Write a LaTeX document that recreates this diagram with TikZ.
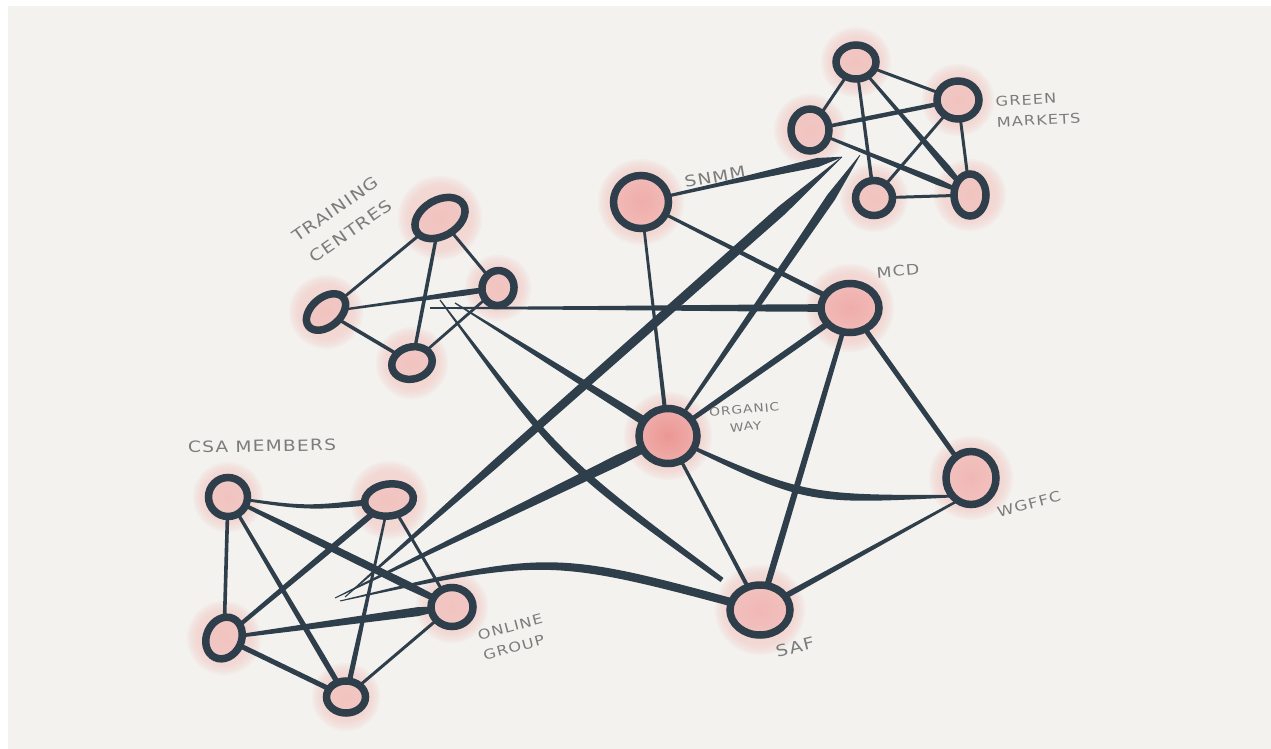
\documentclass[tikz,border=0pt]{standalone}
\usepackage{fontspec}
\newfontfamily\hand[FakeStretch=1.2,LetterSpace=8]{DejaVu Sans}
\usetikzlibrary{calc,shapes.geometric}

\definecolor{bgc}{HTML}{F3F2EE}
\definecolor{ink}{HTML}{2E3E4B}
\definecolor{glowc}{HTML}{F2CFCB}
\definecolor{pinkl}{HTML}{F1C3BF}
\definecolor{pinkw}{HTML}{F1B8B5}
\definecolor{pinkm}{HTML}{F0ADAA}
\definecolor{pinkh}{HTML}{EC9794}
\definecolor{labelc}{HTML}{7C7C7C}

\pgfdeclarelayer{paper}
\pgfdeclarelayer{halo}
\pgfdeclarelayer{links}
\pgfsetlayers{paper,halo,links,main}

% straight stroke of varying width:
% from, to, half-width at start, position 1, half-width there, position 2, half-width there, half-width at end
\newcommand\seg[8]{%
  \coordinate (sgA) at ($(#1)!#4!(#2)$);
  \coordinate (sgB) at ($(#1)!#6!(#2)$);
  \fill[ink] ($(#1)!#3!90:(#2)$) -- ($(sgA)!#5!90:(#2)$) -- ($(sgB)!#7!90:(#2)$) -- ($(#2)!#8!-90:(#1)$)
     -- ($(#2)!#8!90:(#1)$) -- ($(sgB)!#7!-90:(#2)$) -- ($(sgA)!#5!-90:(#2)$) -- ($(#1)!#3!-90:(#2)$) -- cycle;}
% curved stroke of varying width: from, control point, to, half-widths at start, middle, end
\newcommand\cseg[6]{%
  \fill[ink] ($(#1)!#4!90:(#2)$) .. controls ($(#2)!#5!90:(#3)$) .. ($(#3)!#6!-90:(#2)$)
     -- ($(#3)!#6!90:(#2)$) .. controls ($(#2)!#5!-90:(#3)$) .. ($(#1)!#4!-90:(#2)$) -- cycle;}
% soft pink glow round a node
\newcommand\glow[2]{%
  \foreach \k in {0,...,5}{\fill[glowc, opacity=0.2] #1 circle[radius={(#2+11-2.2*\k)*1pt}];}}

\begin{document}
\begin{tikzpicture}[x=1pt,y=-1pt,
  dot/.style={ellipse, draw=ink, line width=7.5pt, inner sep=0pt, outer sep=0pt,
              shade, inner color=#1, outer color=#1!60!glowc},
  dot/.default=pinkl,
  lbl/.style={text=labelc, inner sep=0pt, align=center}]

\useasboundingbox (0,0) rectangle (1271,749);
\begin{pgfonlayer}{paper}
  \fill[white] (0,0) rectangle (1271,749);
  \fill[bgc] (8,6) rectangle (1271,749);
\end{pgfonlayer}

% ---- nodes ----
% training centres
\node[dot, minimum width=54pt, minimum height=36pt, rotate=30] (t1) at (440,218) {};
\node[dot, minimum width=35pt, minimum height=32pt, rotate=80] (t2) at (498,288) {};
\node[dot, minimum width=45pt, minimum height=29pt, rotate=40] (t3) at (326,312) {};
\node[dot, minimum width=41pt, minimum height=32pt, rotate=15] (t4) at (412,363) {};
% green markets
\node[dot, minimum width=40pt, minimum height=34pt] (g1) at (856,62) {};
\node[dot, minimum width=42pt, minimum height=38pt] (g2) at (958,100) {};
\node[dot, minimum width=38pt, minimum height=42pt] (g3) at (810,130) {};
\node[dot, minimum width=37pt, minimum height=35pt] (g4) at (874,198) {};
\node[dot, minimum width=32pt, minimum height=42pt] (g5) at (970,195) {};
% main organisations
\node[dot=pinkm, minimum width=55pt, minimum height=53pt] (snmm) at (641,202) {};
\node[dot=pinkm, minimum width=58pt, minimum height=49pt] (mcd) at (850,308) {};
\node[dot=pinkh, minimum width=58pt, minimum height=55pt] (ow) at (668,436) {};
\node[dot=pinkw, minimum width=50pt, minimum height=53pt] (wgffc) at (971,478) {};
\node[dot=pinkw, minimum width=60pt, minimum height=50pt] (saf) at (760,610) {};
% CSA members
\node[dot, minimum width=39pt, minimum height=39pt] (c1) at (228,497) {};
\node[dot, minimum width=49pt, minimum height=32pt, rotate=8] (c2) at (389,500) {};
\node[dot, minimum width=43pt, minimum height=35pt, rotate=65] (c3) at (224,638) {};
\node[dot, minimum width=42pt, minimum height=39pt] (c4) at (452,607) {};
\node[dot, minimum width=39pt, minimum height=32pt] (c5) at (346,697) {};

% free ends of the long strokes
\coordinate (thubm) at (430,308);
\coordinate (thubo) at (455,303);
\coordinate (thubs) at (440,300);
\coordinate (chubg) at (345,597);
\coordinate (chubo) at (335,598);
\coordinate (chubs) at (340,601);
\coordinate (gend1) at (842,157);
\coordinate (gend2) at (860,155);
\coordinate (sfend) at (722,580);

% ---- glows ----
\begin{pgfonlayer}{halo}
  \foreach \n/\r in {t1/31,t2/22,t3/26,t4/25,g1/24,g2/25,g3/25,g4/23,g5/25,
                     snmm/32,mcd/33,ow/33,wgffc/31,saf/34,c1/24,c2/28,c3/26,c4/25,c5/23}
    {\glow{(\n)}{\r}}
\end{pgfonlayer}

% ---- connectors ----
\begin{pgfonlayer}{links}
  % training centres
  \seg{t3}{t1}{1.3pt}{0.33}{1.5pt}{0.67}{1.5pt}{1.5pt}
  \seg{t1}{t4}{1.5pt}{0.33}{1.8pt}{0.67}{1.8pt}{1.5pt}
  \seg{t1}{t2}{1.5pt}{0.33}{1.5pt}{0.67}{1.5pt}{1.5pt}
  \seg{t3}{t4}{1.5pt}{0.33}{1.8pt}{0.67}{1.8pt}{1.5pt}
  \seg{t4}{t2}{1.2pt}{0.33}{1.4pt}{0.67}{1.4pt}{1.2pt}
  \seg{t3}{t2}{1pt}{0.4}{1.5pt}{0.8}{3pt}{2.5pt}
  % green markets
  \seg{g1}{g2}{1.3pt}{0.33}{1.5pt}{0.67}{1.5pt}{1.5pt}
  \seg{g1}{g3}{1.5pt}{0.33}{1.5pt}{0.67}{1.5pt}{1.5pt}
  \seg{g1}{g4}{1.3pt}{0.33}{1.6pt}{0.67}{1.7pt}{1.8pt}
  \seg{g1}{g5}{1.2pt}{0.4}{2pt}{0.8}{3.5pt}{1.5pt}
  \seg{g3}{g2}{1.5pt}{0.4}{2.2pt}{0.8}{2.2pt}{2pt}
  \seg{g3}{g5}{1.2pt}{0.4}{2pt}{0.8}{3.2pt}{1pt}
  \seg{g2}{g4}{1.2pt}{0.33}{1.5pt}{0.67}{1.5pt}{1.5pt}
  \seg{g2}{g5}{1.3pt}{0.33}{1.5pt}{0.67}{1.5pt}{1.5pt}
  \seg{g4}{g5}{1.3pt}{0.33}{1.5pt}{0.67}{1.5pt}{1.5pt}
  % into green markets
  \seg{snmm}{gend1}{1.3pt}{0.4}{2pt}{0.88}{4.5pt}{0.3pt}
  \seg{chubg}{gend1}{0.5pt}{0.3}{4pt}{0.88}{5pt}{0.3pt}
  \seg{ow}{gend2}{1.2pt}{0.3}{2.5pt}{0.85}{4.5pt}{0.3pt}
  % between the organisations
  \seg{snmm}{ow}{1.3pt}{0.4}{1.5pt}{0.8}{2pt}{2pt}
  \seg{snmm}{mcd}{1.3pt}{0.4}{2pt}{0.8}{2.5pt}{2.5pt}
  \seg{mcd}{ow}{3pt}{0.4}{3pt}{0.8}{2.5pt}{2pt}
  \seg{mcd}{saf}{2.2pt}{0.4}{2.8pt}{0.8}{3.2pt}{3pt}
  \seg{mcd}{wgffc}{2.5pt}{0.4}{2.5pt}{0.8}{2.5pt}{2pt}
  \cseg{ow}{805,500}{wgffc.225}{1.2pt}{5pt}{1.2pt}
  \seg{ow}{saf}{1.5pt}{0.4}{1.8pt}{0.8}{2pt}{2pt}
  \seg{wgffc.240}{saf}{1.2pt}{0.4}{2pt}{0.8}{2.8pt}{3pt}
  % from the training centres
  \seg{thubm}{mcd}{0.8pt}{0.4}{2pt}{0.8}{3.5pt}{4pt}
  \seg{thubo}{ow}{0.6pt}{0.4}{2.5pt}{0.8}{4pt}{5pt}
  \cseg{thubs}{560,461}{sfend}{0.6pt}{4.5pt}{2.5pt}
  % from the CSA members
  \seg{chubo}{ow}{0.5pt}{0.4}{3pt}{0.85}{5.5pt}{4pt}
  \cseg{chubs}{550,553}{saf}{0.5pt}{4.5pt}{4pt}
  % CSA members
  \cseg{c1}{308,509}{c2}{1.2pt}{2pt}{3.5pt}
  \seg{c1}{c3}{1.8pt}{0.33}{1.8pt}{0.67}{1.8pt}{1.8pt}
  \seg{c1}{c5}{1.5pt}{0.4}{2.2pt}{0.8}{2.8pt}{2.5pt}
  \seg{c1}{c4}{1.5pt}{0.4}{3.5pt}{0.8}{4pt}{2.5pt}
  \seg{c2}{c3}{3pt}{0.4}{3pt}{0.8}{2.2pt}{2pt}
  \seg{c2}{c5}{1.2pt}{0.4}{1.5pt}{0.8}{2.5pt}{2.5pt}
  \seg{c2}{c4}{1.5pt}{0.33}{1.5pt}{0.67}{1.5pt}{1.5pt}
  \seg{c3}{c4}{1.5pt}{0.4}{3pt}{0.85}{4.5pt}{1pt}
  \seg{c3}{c5}{2.5pt}{0.33}{2.5pt}{0.67}{2.5pt}{2.5pt}
  \seg{c5}{c4}{1.5pt}{0.33}{1.5pt}{0.67}{1.5pt}{1.5pt}
\end{pgfonlayer}

% ---- labels ----
\node[lbl, rotate=35, font=\hand\fontsize{16}{27}\selectfont] (ltc) at (343,220) {TRAINING\\CENTRES};
\node[lbl, rotate=3, align=left, anchor=west, font=\hand\fontsize{13.5}{21}\selectfont] (lgm) at (996,112) {GREEN\\MARKETS};
\node[lbl, rotate=10, font=\hand\fontsize{15.5}{18}\selectfont] (lsnmm) at (715,177) {SNMM};
\node[lbl, rotate=5, font=\hand\fontsize{14.5}{18}\selectfont] (lmcd) at (898,271) {MCD};
\node[lbl, rotate=5, font=\hand\fontsize{11.5}{17}\selectfont] (low) at (745,418) {ORGANIC\\WAY};
\node[lbl, rotate=15, font=\hand\fontsize{14}{18}\selectfont] (lwg) at (1029,504) {WGFFC};
\node[lbl, rotate=14, font=\hand\fontsize{16}{18}\selectfont] (lsaf) at (795,647) {SAF};
\node[lbl, rotate=15, align=left, font=\hand\fontsize{13.5}{21}\selectfont] (lon) at (513,637) {ONLINE\\GROUP};
\node[lbl, rotate=1, font=\hand\fontsize{15.5}{18}\selectfont] (lcsa) at (262,446) {CSA MEMBERS};
\end{tikzpicture}
\end{document}
